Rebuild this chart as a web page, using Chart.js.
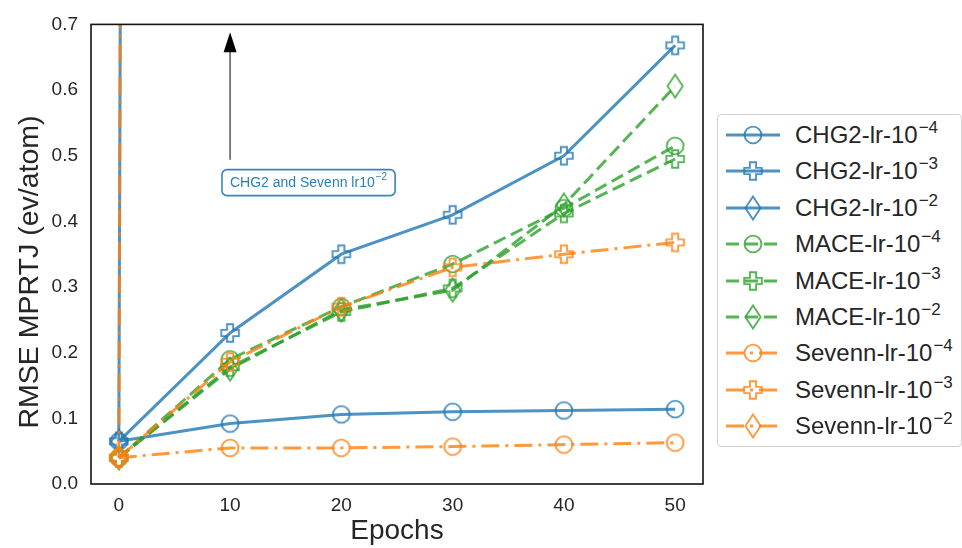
<!DOCTYPE html>
<html><head><meta charset="utf-8">
<script src="https://cdn.jsdelivr.net/npm/chart.js@4"></script>
<style>
html,body{margin:0;padding:0;background:#fff;}
#wrap{position:relative;width:962px;height:548px;overflow:hidden;}
#legend{position:absolute;left:717px;top:114px;width:245px;height:333px;border:1px solid #d0d0d0;border-radius:4px;box-sizing:border-box;font-family:'Liberation Sans',Arial,sans-serif;color:#262626;background:#fff;}
.row{position:absolute;left:0;height:36px;width:100%;}
.row canvas{position:absolute;left:7px;top:3px;}
.row span{position:absolute;left:77px;top:0;font-size:24px;line-height:36px;white-space:nowrap;}
.row sup{font-size:17px;vertical-align:baseline;position:relative;top:-10px;margin-left:1px;}
</style>
</head><body>
<div id="wrap">
<canvas id="c" width="962" height="548"></canvas>
<div id="legend"></div>
</div>
<script>
// ---- data ----
const epochs = [0, 10, 20, 30, 40, 50];
const xTicks = [0, 10, 20, 30, 40, 50];
const yTicks = [0.0, 0.1, 0.2, 0.3, 0.4, 0.5, 0.6, 0.7];

const chg2Lr4 = [0.065, 0.092, 0.106, 0.110, 0.112, 0.114];
const chg2Lr3 = [0.065, 0.230, 0.350, 0.410, 0.500, 0.668];
const chg2Lr2 = [0.065, 1000, 1000, 1000, 1000, 1000];   // diverged, off the chart

const maceLr4 = [0.040, 0.190, 0.270, 0.335, 0.420, 0.515];
const maceLr3 = [0.040, 0.178, 0.262, 0.298, 0.412, 0.495];
const maceLr2 = [0.040, 0.175, 0.265, 0.295, 0.425, 0.606];

const sevennLr4 = [0.040, 0.055, 0.055, 0.057, 0.060, 0.063];
const sevennLr3 = [0.040, 0.186, 0.270, 0.330, 0.350, 0.368];
const sevennLr2 = [0.040, 1000, 1000, 1000, 1000, 1000]; // diverged, off the chart

const seriesNames = ['CHG2-lr-10', 'CHG2-lr-10', 'CHG2-lr-10', 'MACE-lr-10', 'MACE-lr-10', 'MACE-lr-10', 'Sevenn-lr-10', 'Sevenn-lr-10', 'Sevenn-lr-10'];
const seriesExps = ['−4', '−3', '−2', '−4', '−3', '−2', '−4', '−3', '−2'];
const seriesValues = [chg2Lr4, chg2Lr3, chg2Lr2, maceLr4, maceLr3, maceLr2, sevennLr4, sevennLr3, sevennLr2];
const annotationText = 'CHG2 and Sevenn lr10';
const annotationExp = '−2';
const xTitle = 'Epochs';
const yTitle = 'RMSE MPRTJ (ev/atom)';

// ---- styles ----
const BLUE = 'rgba(31,119,180,0.8)';
const GREEN = 'rgba(44,160,44,0.8)';
const ORANGE = 'rgba(255,127,14,0.8)';
const SOLID = [], DASH = [13, 6], DASHDOT = [18, 6, 3, 6];
const styles = [
  {color: BLUE, dash: SOLID, marker: 'circle'},
  {color: BLUE, dash: SOLID, marker: 'plus'},
  {color: BLUE, dash: SOLID, marker: 'diamond'},
  {color: GREEN, dash: DASH, marker: 'circle'},
  {color: GREEN, dash: DASH, marker: 'plus'},
  {color: GREEN, dash: DASH, marker: 'diamond'},
  {color: ORANGE, dash: DASHDOT, marker: 'circle'},
  {color: ORANGE, dash: DASHDOT, marker: 'plus'},
  {color: ORANGE, dash: DASHDOT, marker: 'diamond'}
];

function drawMarker(ctx, shape, color, cx, cy) {
  ctx.save();
  ctx.strokeStyle = color; ctx.lineWidth = 1.9; ctx.setLineDash([]);
  ctx.beginPath();
  if (shape === 'circle') {
    ctx.arc(cx, cy, 8.4, 0, Math.PI * 2);
  } else if (shape === 'plus') {
    const a = 8.8, b = 3.1;
    const pts = [[-b,-a],[b,-a],[b,-b],[a,-b],[a,b],[b,b],[b,a],[-b,a],[-b,b],[-a,b],[-a,-b],[-b,-b]];
    pts.forEach((p, i) => i ? ctx.lineTo(cx + p[0], cy + p[1]) : ctx.moveTo(cx + p[0], cy + p[1]));
    ctx.closePath();
  } else {
    ctx.moveTo(cx, cy - 11.5); ctx.lineTo(cx + 7.6, cy); ctx.lineTo(cx, cy + 11.5); ctx.lineTo(cx - 7.6, cy);
    ctx.closePath();
  }
  ctx.stroke();
  ctx.restore();
}
function markerCanvas(shape, color) {
  const c = document.createElement('canvas');
  c.width = 28; c.height = 28;
  drawMarker(c.getContext('2d'), shape, color, 14, 14);
  return c;
}

const datasets = seriesValues.map((vals, i) => ({
  label: seriesNames[i] + seriesExps[i],
  data: epochs.map((e, j) => ({x: e, y: vals[j]})),
  borderColor: styles[i].color,
  borderWidth: 3,
  borderDash: styles[i].dash,
  pointStyle: markerCanvas(styles[i].marker, styles[i].color),
  pointRadius: 8,
  pointHoverRadius: 8,
  fill: false,
  tension: 0,
  order: seriesValues.length - i,
  clip: 0
}));

const FONT = "'Liberation Sans', Arial, sans-serif";
Chart.defaults.font.family = FONT;

const overlay = {
  id: 'overlay',
  afterDatasetsDraw(chart) {
    const {ctx, chartArea: a, scales: {x, y}} = chart;
    ctx.save();
    // frame
    ctx.strokeStyle = '#111'; ctx.lineWidth = 1.6; ctx.setLineDash([]);
    ctx.strokeRect(a.left, a.top, a.right - a.left, a.bottom - a.top);
    // arrow
    const ax = x.getPixelForValue(10);
    const yTail = y.getPixelForValue(0.494), yTip = y.getPixelForValue(0.688);
    ctx.strokeStyle = '#555'; ctx.lineWidth = 1.5;
    ctx.beginPath(); ctx.moveTo(ax, yTail); ctx.lineTo(ax, yTip + 18); ctx.stroke();
    ctx.fillStyle = '#000';
    ctx.beginPath(); ctx.moveTo(ax, yTip); ctx.lineTo(ax + 6.5, yTip + 20); ctx.lineTo(ax - 6.5, yTip + 20); ctx.closePath(); ctx.fill();
    // text box
    const bx = x.getPixelForValue(17.05), by = y.getPixelForValue(0.459);
    ctx.font = '14px ' + FONT;
    const w1 = ctx.measureText(annotationText).width;
    ctx.font = '10px ' + FONT;
    const w2 = ctx.measureText(annotationExp).width;
    const tw = w1 + w2 + 1;
    const bw = tw + 16, bh = 26;
    const l = bx - bw / 2, t = by - bh / 2;
    ctx.fillStyle = '#fff'; ctx.strokeStyle = 'rgba(31,119,180,0.9)'; ctx.lineWidth = 1.6;
    ctx.beginPath(); ctx.roundRect(l, t, bw, bh, 5); ctx.fill(); ctx.stroke();
    ctx.fillStyle = 'rgba(31,119,180,0.95)'; ctx.textBaseline = 'middle'; ctx.textAlign = 'left';
    ctx.font = '14px ' + FONT;
    ctx.fillText(annotationText, l + 8, by + 1);
    ctx.font = '10px ' + FONT;
    ctx.fillText(annotationExp, l + 8 + w1 + 1, by - 5);
    // y-axis title
    ctx.translate(30, 272);
    ctx.rotate(-Math.PI / 2);
    ctx.fillStyle = '#262626'; ctx.textAlign = 'center'; ctx.textBaseline = 'middle';
    ctx.font = '28.5px ' + FONT;
    ctx.fillText(yTitle, 0, 0);
    ctx.restore();
  }
};

new Chart(document.getElementById('c'), {
  type: 'line',
  data: {datasets},
  plugins: [overlay],
  options: {
    responsive: false, animation: false, devicePixelRatio: 1,
    layout: {padding: {left: 0, right: 259, top: 22, bottom: 0}},
    plugins: {legend: {display: false}, tooltip: {enabled: false}},
    scales: {
      x: {
        type: 'linear', min: -2.5, max: 52.5,
        afterBuildTicks: s => { s.ticks = xTicks.map(v => ({value: v})); },
        grid: {display: false, drawTicks: false}, border: {display: false},
        ticks: {padding: 10, font: {size: 19}, color: '#262626', callback: v => String(v)},
        title: {display: true, text: xTitle, font: {size: 28}, color: '#262626', padding: {top: 0, bottom: 0}},
        afterFit: s => { s.height = 64; }
      },
      y: {
        type: 'linear', min: 0, max: 0.7,
        afterBuildTicks: s => { s.ticks = yTicks.map(v => ({value: v})); },
        grid: {display: false, drawTicks: false}, border: {display: false},
        ticks: {padding: 13, font: {size: 19}, color: '#262626', callback: v => Number(v).toFixed(1)},
        title: {display: false},
        afterFit: s => { s.width = 91; }
      }
    }
  }
});

// ---- legend ----
const leg = document.getElementById('legend');
seriesNames.forEach((name, i) => {
  const row = document.createElement('div');
  row.className = 'row';
  row.style.top = (2 + i * 36.4) + 'px';
  const c = document.createElement('canvas');
  c.width = 56; c.height = 30;
  const g = c.getContext('2d');
  g.strokeStyle = styles[i].color; g.lineWidth = 3; g.setLineDash(styles[i].dash);
  g.beginPath(); g.moveTo(1, 15); g.lineTo(55, 15); g.stroke();
  drawMarker(g, styles[i].marker, styles[i].color, 28, 15);
  row.appendChild(c);
  const sp = document.createElement('span');
  sp.innerHTML = name + '<sup>' + seriesExps[i] + '</sup>';
  row.appendChild(sp);
  leg.appendChild(row);
});
</script>
</body></html>
